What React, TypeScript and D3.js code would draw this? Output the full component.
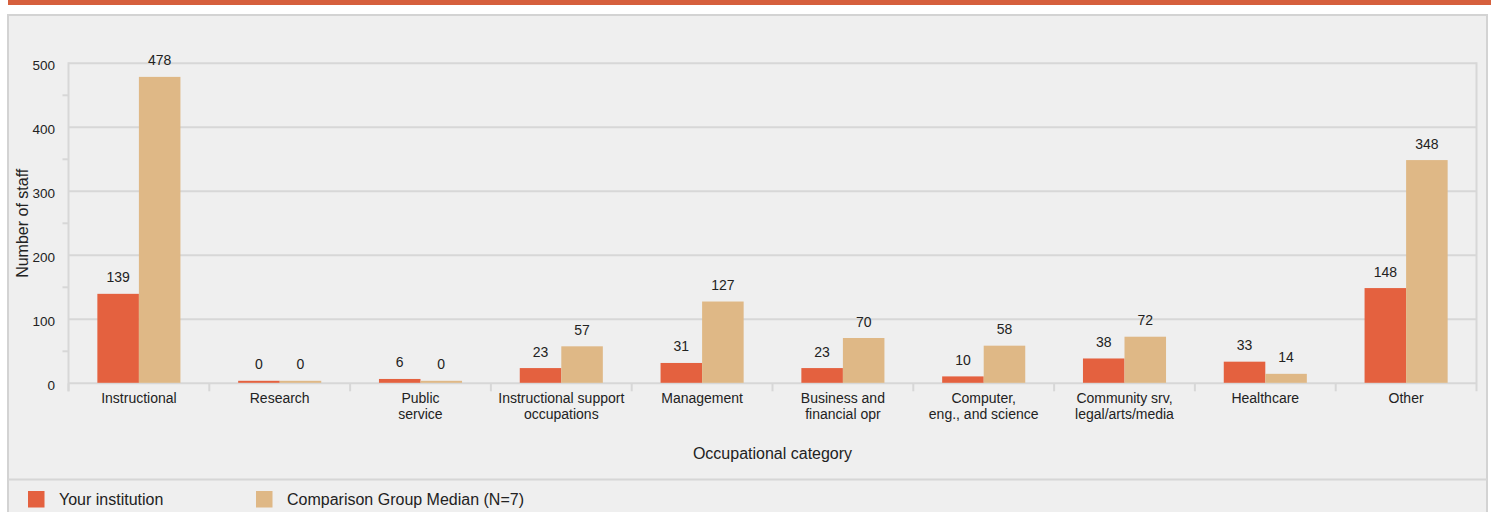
import React from "react";
import * as d3 from "d3";

const categories: string[][] = [
  ["Instructional"],
  ["Research"],
  ["Public", "service"],
  ["Instructional support", "occupations"],
  ["Management"],
  ["Business and", "financial opr"],
  ["Computer,", "eng., and science"],
  ["Community srv,", "legal/arts/media"],
  ["Healthcare"],
  ["Other"],
];
const yourInstitution: number[] = [139, 0, 6, 23, 31, 23, 10, 38, 33, 148];
const comparisonMedian: number[] = [478, 0, 0, 57, 127, 70, 58, 72, 14, 348];
const seriesNames: string[] = ["Your institution", "Comparison Group Median (N=7)"];
const yTicks: number[] = [0, 100, 200, 300, 400, 500];
const yMinorTicks: number[] = [50, 150, 250, 350, 450];

const COLORS = ["#e4613f", "#dfb886"];
const FONT = "'Liberation Sans', Arial, Helvetica, sans-serif";
const TEXT = "#222";
const GRID = "#d7d7d7";

export default function App() {
  const W = 1491;
  const H = 512;
  const left = 68.5;
  const right = 1476.5;
  const top = 63.3;
  const bottom = 383.3;

  const x = d3
    .scaleBand<number>()
    .domain(d3.range(categories.length))
    .range([left, right]);
  const y = d3.scaleLinear().domain([0, 500]).range([bottom, top]);
  const barW = x.bandwidth() * 0.295;
  const series = [yourInstitution, comparisonMedian];

  return (
    <svg
      width={W}
      height={H}
      style={{ position: "absolute", left: 0, top: 0, fontFamily: FONT }}
    >
      <rect x={8} y={0} width={W - 8} height={5} fill="#d6603d" />
      <rect x={8} y={15} width={1479} height={520} fill="#efefef" stroke="#d3d3d3" strokeWidth={2} />
      <line x1={8} x2={1487} y1={479.5} y2={479.5} stroke="#d6d6d6" strokeWidth={2} />

      {/* gridlines */}
      {yTicks.map((t) => (
        <line key={"g" + t} x1={left} x2={right} y1={y(t)} y2={y(t)} stroke={GRID} strokeWidth={2} />
      ))}
      {/* right border */}
      <line x1={right} x2={right} y1={top - 1} y2={bottom + 8} stroke={GRID} strokeWidth={2} />
      {/* y axis */}
      <line x1={left} x2={left} y1={top - 1} y2={bottom + 8} stroke={GRID} strokeWidth={2} />
      {yMinorTicks.map((t) => (
        <line key={"m" + t} x1={left - 6} x2={left} y1={y(t)} y2={y(t)} stroke={GRID} strokeWidth={2} />
      ))}
      {yTicks.map((t) => (
        <text key={"yt" + t} x={55} y={y(t) + 6.5} textAnchor="end" fontSize={13.5} fill={TEXT}>
          {t}
        </text>
      ))}
      {/* x category ticks */}
      {categories.map((_, i) => (
        <line
          key={"xt" + i}
          x1={x(i)!}
          x2={x(i)!}
          y1={bottom}
          y2={bottom + 8}
          stroke={GRID}
          strokeWidth={2}
        />
      ))}

      {/* bars */}
      {series.map((vals, s) =>
        vals.map((v, i) => {
          const cx = x(i)! + x.bandwidth() / 2;
          const bx = cx - barW + s * barW;
          const h = Math.max(2, bottom - y(v));
          return (
            <g key={"b" + s + "-" + i}>
              <rect x={bx} y={bottom - h - 0.5} width={barW} height={h} fill={COLORS[s]} />
              <text
                x={bx + barW / 2}
                y={bottom - h - 12}
                textAnchor="middle"
                fontSize={14}
                fill={TEXT}
              >
                {v}
              </text>
            </g>
          );
        })
      )}

      {/* x labels */}
      {categories.map((lines, i) => (
        <text
          key={"xl" + i}
          x={x(i)! + x.bandwidth() / 2}
          y={403}
          textAnchor="middle"
          fontSize={14}
          fill={TEXT}
        >
          {lines.map((l, k) => (
            <tspan key={k} x={x(i)! + x.bandwidth() / 2} dy={k === 0 ? 0 : 16}>
              {l}
            </tspan>
          ))}
        </text>
      ))}

      <text x={(left + right) / 2} y={459} textAnchor="middle" fontSize={16} fill={TEXT}>
        Occupational category
      </text>
      <text
        transform={`translate(28,${(top + bottom) / 2}) rotate(-90)`}
        textAnchor="middle"
        fontSize={16}
        fill={TEXT}
      >
        Number of staff
      </text>

      {/* legend */}
      {seriesNames.map((n, s) => {
        const lx = s === 0 ? 28 : 256;
        return (
          <g key={"lg" + s}>
            <rect x={lx} y={491} width={16.5} height={16.5} fill={COLORS[s]} />
            <text x={lx + 31} y={505} fontSize={16} fill={TEXT}>
              {n}
            </text>
          </g>
        );
      })}
    </svg>
  );
}
